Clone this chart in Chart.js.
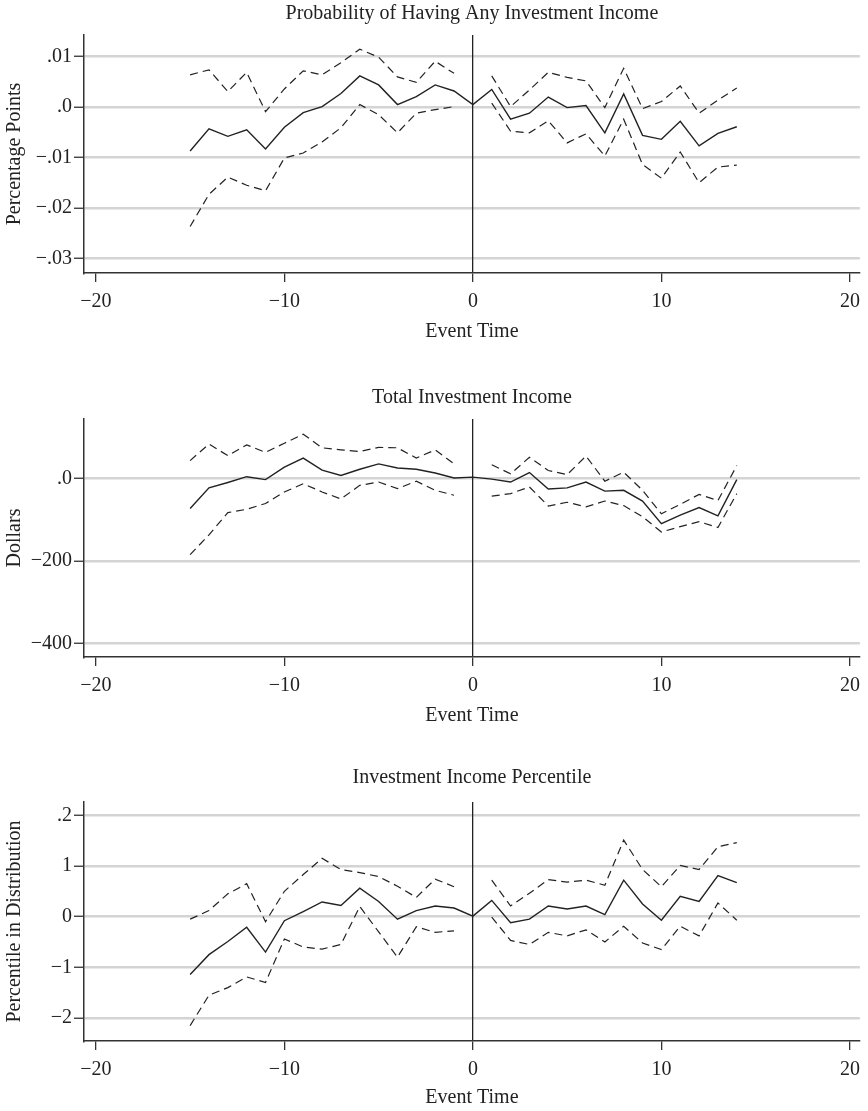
<!DOCTYPE html>
<html>
<head>
<meta charset="utf-8">
<script src="https://cdn.jsdelivr.net/npm/chart.js@4.4.1/dist/chart.umd.min.js"></script>
<style>
body{margin:0;background:#fff;}
#wrap{position:relative;width:868px;height:1111px;}
canvas{position:absolute;left:0;}
</style>
</head>
<body>
<div id="wrap">
<canvas id="c1" width="868" height="370" style="top:0px"></canvas>
<canvas id="c2" width="868" height="380" style="top:370px"></canvas>
<canvas id="c3" width="868" height="361" style="top:750px"></canvas>
</div>
<script>
var eventTime = [-15,-14,-13,-12,-11,-10,-9,-8,-7,-6,-5,-4,-3,-2,-1,0,1,2,3,4,5,6,7,8,9,10,11,12,13,14];
var xTicks = [-20,-10,0,10,20];
var xTickLabels = ['\u221220','\u221210','0','10','20'];

// probability of having any investment income
var prob   = [-0.0087,-0.0043,-0.0058,-0.0045,-0.0083,-0.0040,-0.0011,0.0001,0.0027,0.0062,0.0044,0.0005,0.0021,0.0044,0.0032,0.0005,0.0035,-0.0024,-0.0012,0.0020,-0.0001,0.0003,-0.0051,0.0026,-0.0056,-0.0064,-0.0028,-0.0077,-0.0052,-0.0039];
var probHi = [0.0064,0.0074,0.0031,0.0069,-0.0009,0.0036,0.0072,0.0064,0.0088,0.0115,0.0099,0.0060,0.0049,0.0091,0.0067,null,0.0062,0.0001,0.0034,0.0069,0.0059,0.0052,-0.0001,0.0077,-0.0003,0.0011,0.0042,-0.0012,0.0014,0.0038];
var probLo = [-0.0237,-0.0173,-0.0139,-0.0155,-0.0166,-0.0101,-0.0091,-0.0069,-0.0041,0.0005,-0.0015,-0.0051,-0.0012,-0.0005,0.0001,null,0.0008,-0.0048,-0.0051,-0.0027,-0.0071,-0.0053,-0.0097,-0.0024,-0.0114,-0.0141,-0.0089,-0.0150,-0.0119,-0.0115];
var probTicks = [-0.03,-0.02,-0.01,0,0.01];
var probLabels = ['\u2212.03','\u2212.02','\u2212.01','.0','.01'];

// total investment income
var inc   = [-73,-23,-10,4,-3,27,49,20,7,22,35,25,22,13,1,3,-2,-9,14,-26,-23,-9,-31,-29,-55,-110,-89,-71,-91,-3];
var incHi = [43,83,55,81,63,85,107,74,69,65,75,74,49,69,35,null,33,11,51,19,9,54,-7,15,-29,-86,-63,-39,-54,31];
var incLo = [-185,-137,-83,-75,-61,-33,-13,-33,-50,-17,-9,-25,-7,-29,-41,null,-43,-37,-21,-67,-58,-69,-55,-66,-93,-130,-117,-105,-119,-37];
var incTicks = [-400,-200,0];
var incLabels = ['\u2212400','\u2212200','.0'];

// investment income percentile
var pct   = [-1.14,-0.75,-0.49,-0.21,-0.70,-0.08,0.10,0.29,0.22,0.56,0.30,-0.05,0.12,0.21,0.17,0.01,0.32,-0.12,-0.05,0.21,0.15,0.21,0.04,0.72,0.25,-0.07,0.40,0.30,0.81,0.67];
var pctHi = [-0.05,0.12,0.45,0.65,-0.10,0.50,0.83,1.15,0.93,0.87,0.79,0.60,0.38,0.74,0.59,null,0.72,0.21,0.46,0.73,0.68,0.72,0.62,1.51,0.93,0.59,1.01,0.93,1.38,1.46];
var pctLo = [-2.15,-1.55,-1.40,-1.19,-1.30,-0.44,-0.60,-0.64,-0.55,0.20,-0.30,-0.80,-0.20,-0.31,-0.28,null,-0.01,-0.47,-0.55,-0.31,-0.38,-0.26,-0.50,-0.19,-0.52,-0.65,-0.19,-0.38,0.27,-0.07];
var pctTicks = [-2,-1,0,1,2];
var pctLabels = ['\u22122','\u22121','0','1','.2'];

var serif = {family:'"Liberation Serif", "Times New Roman", serif', size:20, weight:'normal'};
var ink = '#222';

function toPoints(vals){
    return vals.map(function(v,i){ return {x:eventTime[i], y:v}; });
}

function makePanel(id, p){
    var dashed = {borderColor:ink, borderWidth:1.2, borderDash:[8,5], pointRadius:0, tension:0, spanGaps:false};
    var solid  = {borderColor:ink, borderWidth:1.4, pointRadius:0, tension:0, spanGaps:false};
    return new Chart(document.getElementById(id), {
        type:'line',
        data:{datasets:[
            Object.assign({data:toPoints(p.hi)}, dashed),
            Object.assign({data:toPoints(p.mid)}, solid),
            Object.assign({data:toPoints(p.lo)}, dashed)
        ]},
        options:{
            responsive:false,
            animation:false,
            layout:{padding:{left:0,right:4,top:0,bottom:p.padBottom}},
            plugins:{
                legend:{display:false},
                tooltip:{enabled:false},
                title:{display:true, text:p.title, fullSize:false, font:serif, color:ink,
                       padding:{top:p.titleTop, bottom:p.titleBottom}}
            },
            scales:{
                y:{
                    type:'linear', min:p.yMin, max:p.yMax,
                    afterFit:function(s){ s.width = 84; },
                    afterBuildTicks:function(s){ s.ticks = p.yTicks.map(function(v){ return {value:v}; }); },
                    ticks:{callback:function(v,i){ return p.yLabels[i]; }, padding:2, color:ink, font:serif},
                    grid:{color:'#d4d4d4', lineWidth:2.5, tickColor:'#333', tickWidth:1.3, tickLength:10},
                    border:{color:'#333', width:1.5},
                    title:{display:true, text:p.yTitle, font:serif, color:ink, padding:{top:3,bottom:0}}
                },
                x:{
                    type:'linear', min:-20.63, max:20.53,
                    afterFit:function(s){ s.height = p.xHeight; },
                    afterBuildTicks:function(s){ s.ticks = xTicks.map(function(v){ return {value:v}; }); },
                    ticks:{callback:function(v,i){ return xTickLabels[i]; }, padding:8, maxRotation:0, autoSkip:false, color:ink, font:serif},
                    grid:{
                        color:function(c){ return c.tick && c.tick.value === 0 ? ink : 'rgba(0,0,0,0)'; },
                        lineWidth:1.3, tickColor:'#333', tickWidth:1.3, tickLength:9
                    },
                    border:{color:'#333', width:1.5},
                    title:{display:true, text:'Event Time', font:serif, color:ink, padding:{top:0,bottom:0}}
                }
            }
        }
    });
}

makePanel('c1', {title:'Probability of Having Any Investment Income', yTitle:'Percentage Points',
    mid:prob, hi:probHi, lo:probLo, yTicks:probTicks, yLabels:probLabels,
    yMin:-0.03292, yMax:0.01431, titleTop:2, titleBottom:9, xHeight:71, padBottom:26});

makePanel('c2', {title:'Total Investment Income', yTitle:'Dollars',
    mid:inc, hi:incHi, lo:incLo, yTicks:incTicks, yLabels:incLabels,
    yMin:-433, yMax:143.8, titleTop:16, titleBottom:9, xHeight:71, padBottom:22});

makePanel('c3', {title:'Investment Income Percentile', yTitle:'Percentile in Distribution',
    mid:pct, hi:pctHi, lo:pctLo, yTicks:pctTicks, yLabels:pctLabels,
    yMin:-2.454, yMax:2.262, titleTop:16, titleBottom:12, xHeight:69, padBottom:1});
</script>
</body>
</html>
